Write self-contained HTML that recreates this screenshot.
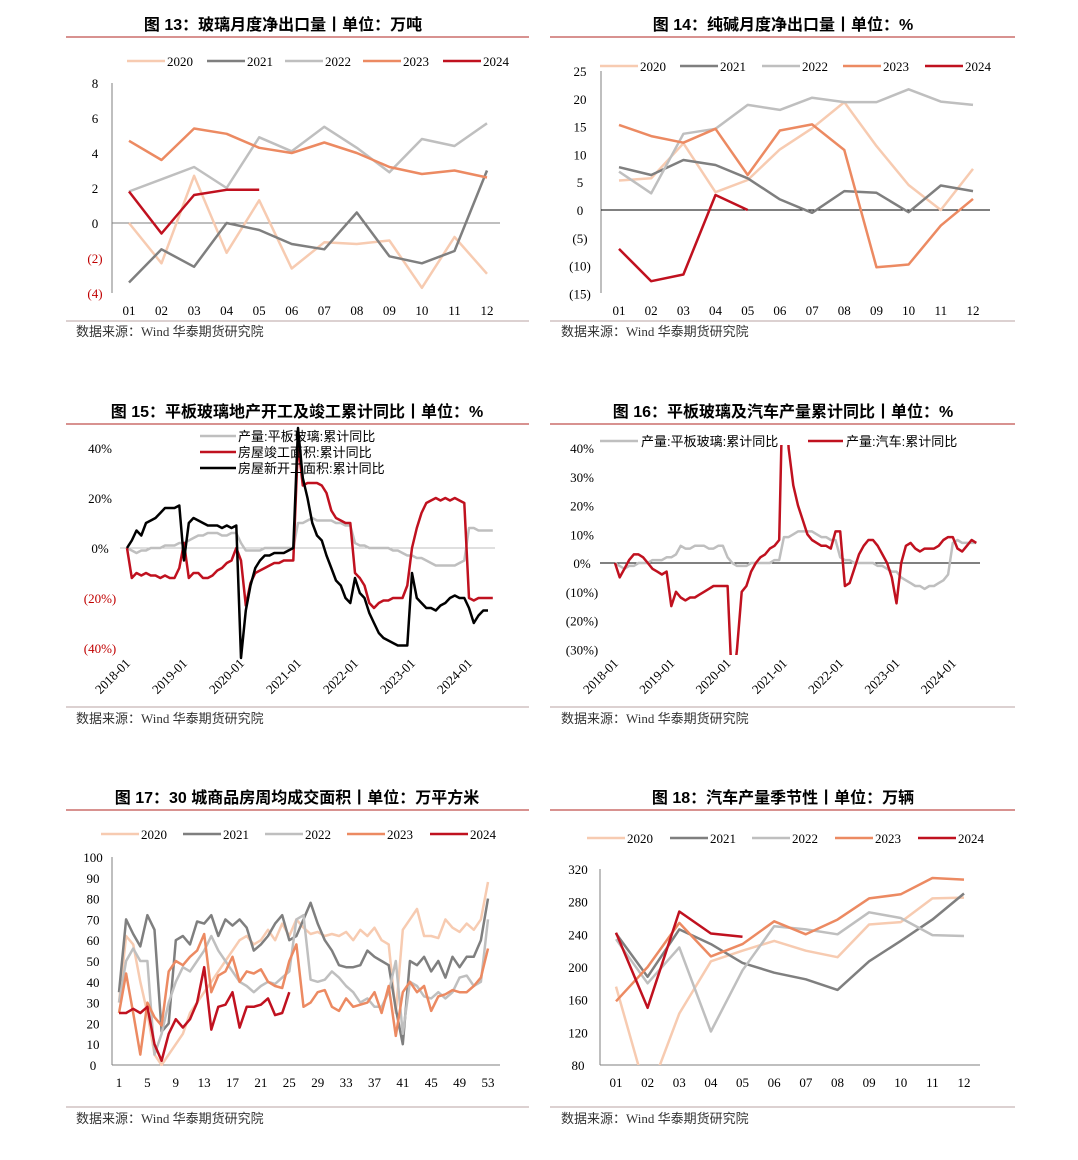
<!DOCTYPE html>
<html><head><meta charset="utf-8">
<style>
html,body{margin:0;padding:0;background:#fff;}
svg text{font-family:"Liberation Serif","Noto Serif CJK SC",serif;}
.t{font-family:"Liberation Sans","Noto Sans CJK SC",sans-serif;font-weight:bold;font-size:16px;fill:#000;}
.src{font-family:"Liberation Serif","Noto Sans CJK SC",serif;font-size:13px;fill:#333;}
</style></head><body>
<svg id="root" width="1078" height="1155" viewBox="0 0 1078 1155" xmlns="http://www.w3.org/2000/svg">
<text class="t" x="283" y="30" text-anchor="middle">图 13：玻璃月度净出口量丨单位：万吨</text>
<text class="t" x="783" y="30" text-anchor="middle">图 14：纯碱月度净出口量丨单位：%</text>
<text class="t" x="297" y="417" text-anchor="middle">图 15：平板玻璃地产开工及竣工累计同比丨单位：%</text>
<text class="t" x="783" y="417" text-anchor="middle">图 16：平板玻璃及汽车产量累计同比丨单位：%</text>
<text class="t" x="297" y="803" text-anchor="middle">图 17：30 城商品房周均成交面积丨单位：万平方米</text>
<text class="t" x="783" y="803" text-anchor="middle">图 18：汽车产量季节性丨单位：万辆</text>
<g stroke="#c0504d" stroke-width="1.2">
<line x1="66" y1="37" x2="529" y2="37"/><line x1="550" y1="37" x2="1015" y2="37"/>
<line x1="66" y1="424" x2="529" y2="424"/><line x1="550" y1="424" x2="1015" y2="424"/>
<line x1="66" y1="810" x2="529" y2="810"/><line x1="550" y1="810" x2="1015" y2="810"/>
</g>
<g stroke="#b9a3a3" stroke-width="1">
<line x1="66" y1="321" x2="529" y2="321"/><line x1="550" y1="321" x2="1015" y2="321"/>
<line x1="66" y1="707" x2="529" y2="707"/><line x1="550" y1="707" x2="1015" y2="707"/>
<line x1="66" y1="1107" x2="529" y2="1107"/><line x1="550" y1="1107" x2="1015" y2="1107"/>
</g>
<text class="src" x="76" y="336">数据来源：Wind 华泰期货研究院</text>
<text class="src" x="561" y="336">数据来源：Wind 华泰期货研究院</text>
<text class="src" x="76" y="723">数据来源：Wind 华泰期货研究院</text>
<text class="src" x="561" y="723">数据来源：Wind 华泰期货研究院</text>
<text class="src" x="76" y="1123">数据来源：Wind 华泰期货研究院</text>
<text class="src" x="561" y="1123">数据来源：Wind 华泰期货研究院</text>
</svg>
<script>
// ---- data ----
const MONTHS = ['01','02','03','04','05','06','07','08','09','10','11','12'];
const YEARS = ['2020','2021','2022','2023','2024'];
const C13_2020 = [0,-2.3,2.7,-1.7,1.3,-2.6,-1.1,-1.2,-1.0,-3.7,-0.8,-2.9];
const C13_2021 = [-3.4,-1.5,-2.5,0,-0.4,-1.2,-1.5,0.6,-1.9,-2.3,-1.6,3.0];
const C13_2022 = [1.8,2.5,3.2,2.0,4.9,4.1,5.5,4.3,2.9,4.8,4.4,5.7];
const C13_2023 = [4.7,3.6,5.4,5.1,4.3,4.0,4.6,4.0,3.2,2.8,3.0,2.6];
const C13_2024 = [1.8,-0.6,1.6,1.9,1.9];
const C13_TICKS = [8,6,4,2,0,-2,-4];

const C14_2020 = [5.3,5.7,12.0,3.2,5.4,10.9,14.7,19.4,11.5,4.5,0,7.4];
const C14_2021 = [7.7,6.3,9.0,8.1,5.7,1.9,-0.5,3.4,3.1,-0.4,4.4,3.4];
const C14_2022 = [6.9,3.0,13.7,14.6,18.9,18.0,20.2,19.4,19.4,21.7,19.5,18.9];
const C14_2023 = [15.3,13.3,12.1,14.6,6.3,14.3,15.4,10.8,-10.3,-9.8,-2.8,2.0];
const C14_2024 = [-7.0,-12.8,-11.6,2.7,0];
const C14_TICKS = [25,20,15,10,5,0,-5,-10,-15];

const DATE_LABELS = ['2018-01','2019-01','2020-01','2021-01','2022-01','2023-01','2024-01'];
const C15_GLASS = [0,-1,-2,-1,-1,0,0,0,1,1,1,2, 2,3,4,5,5,6,6,6,5,5,6,6, 2,-1,-1,-1,-1,0,0,0,0,0,0,0, 10,10,11,12,11,11,11,11,10,10,9,9, 2,1,1,0,0,0,0,0,-1,-1,-2,-3, -3,-4,-4,-5,-6,-7,-7,-7,-7,-7,-6,-5, 8,8,7,7,7,7];
const C15_COMPLETE = [0,-12,-10,-11,-10,-11,-11,-12,-11,-12,-12,-8, 2,-12,-10,-10,-12,-12,-11,-9,-8,-6,-5,0, -5,-23,-14,-10,-9,-8,-7,-6,-6,-5,-5,-5, 42,25,26,26,26,25,22,15,12,11,10,10, -10,-12,-15,-22,-24,-22,-21,-21,-20,-20,-20,-15, 0,8,14,18,19,20,19,20,19,20,19,18, -20,-21,-20,-20,-20,-20];
const C15_START = [0,3,7,5,10,11,12,14,16,16,16,17, -5,10,12,11,10,9,9,9,8,9,8,9, -44,-25,-15,-8,-5,-3,-3,-2,-2,-2,-1,0, 48,28,20,10,5,3,-3,-8,-13,-15,-20,-22, -12,-18,-20,-26,-30,-34,-36,-37,-38,-39,-39,-39, -10,-20,-22,-24,-24,-25,-23,-22,-20,-19,-20,-20, -24,-30,-27,-25,-25];
const C15_TICKS = [40,20,0,-20,-40];

const C16_GLASS = [0,-1,-2,-1,-1,0,0,0,1,1,1,2, 2,3,6,5,5,6,6,6,5,5,6,6, 2,0,-1,-1,-1,0,0,0,0,0,1,1, 9,9,10,11,11,11,11,10,9,9,8,8, 2,1,1,0,0,0,0,0,-1,-1,-2,-3, -3,-5,-6,-7,-8,-8,-9,-8,-8,-7,-6,-4, 7,8,7,7,7,7];
const C16_AUTO = [0,-5,-2,1,3,3,2,0,-2,-3,-4,-3, -15,-10,-12,-13,-12,-12,-11,-10,-9,-8,-8,-8, -8,-45,-30,-10,-8,-3,0,2,3,5,6,8, 80,40,27,20,15,10,8,7,6,6,5,11, 11,-8,-7,-2,3,6,8,8,6,3,0,-5, -14,0,6,7,5,4,5,5,5,6,8,9, 9,5,4,6,8,7];
const C16_TICKS = [40,30,20,10,0,-10,-20,-30];

const C17_2020 = [30,62,58,40,25,5,0,5,10,15,25,30,35,40,45,50,55,60,62,58,60,65,60,68,62,70,66,63,64,62,63,62,64,60,65,62,66,60,58,25,65,70,75,62,62,61,70,66,64,68,65,70,88];
const C17_2021 = [35,70,63,57,72,65,16,20,60,62,58,69,68,72,62,70,67,70,66,55,58,62,68,72,60,62,70,78,68,60,55,48,47,47,48,55,52,50,48,27,10,50,48,52,45,50,42,52,47,52,52,60,80];
const C17_2022 = [30,50,56,50,50,5,15,30,40,47,45,50,55,62,55,50,45,40,38,35,38,40,39,42,45,70,72,41,40,41,45,42,38,35,30,32,28,28,35,50,15,40,38,33,32,35,32,35,42,43,38,40,70];
const C17_2023 = [25,44,25,5,30,23,19,45,50,48,52,55,63,35,43,45,52,40,45,44,46,40,38,37,50,58,28,30,35,36,28,26,32,28,29,30,35,25,38,14,35,40,35,38,26,33,34,36,35,35,38,42,56];
const C17_2024 = [25,25,27,25,28,10,2,15,22,18,22,30,47,17,28,29,35,18,28,28,29,32,24,25,35];
const C17_TICKS = [100,90,80,70,60,50,40,30,20,10,0];
const C17_XLABELS = [1,5,9,13,17,21,25,29,33,37,41,45,49,53];

const C18_2020 = [176,40,143,207,220,232,220,212,252,255,284,285];
const C18_2021 = [241,188,246,228,205,193,185,172,207,232,258,290];
const C18_2022 = [234,180,224,121,196,250,246,240,267,260,239,238];
const C18_2023 = [158,200,254,213,228,256,240,258,284,289,309,307];
const C18_2024 = [242,150,268,241,237];
const C18_TICKS = [320,280,240,200,160,120,80];

// ---- drawing ----
const NS = 'http://www.w3.org/2000/svg';
const root = document.getElementById('root');
const YC = ['#f7cbb1','#7f7f7f','#bfbfbf','#ec8a62','#c0111f'];
function lin(d0,d1,r0,r1){return v=>r0+(v-d0)/(d1-d0)*(r1-r0);}
function mk(tag, attrs, name, parent){
  const el = document.createElementNS(NS, tag);
  for (const k in attrs) el.setAttribute(k, attrs[k]);
  
  
  (parent||root).appendChild(el);
  return el;
}
function txt(x,y,s,name,opt){
  const o = Object.assign({x:x,y:y,'font-size':13,fill:'#000','text-anchor':'middle'}, opt||{});
  const t = mk('text', o, name);
  t.textContent = s;
  return t;
}
let clipId = 0;
function series(vals, xs, ys, color, w, name, clip){
  const pts = vals.map((v,i)=>xs(i).toFixed(1)+','+ys(v).toFixed(1)).join(' ');
  mk('polyline',{points:pts,fill:'none',stroke:color,'stroke-width':w,'stroke-linejoin':'round','clip-path':'url(#'+clip+')'},name);
}
function clipRect(x,y,w,h){
  const id='clip'+(clipId++);
  const cp = mk('clipPath',{id:id},'clip-region');
  mk('rect',{x:x,y:y,width:w,height:h},'clip-rect',cp);
  return id;
}
function legendH(items, y, name){
  items.forEach(it=>{
    mk('line',{x1:it.x,y1:y,x2:it.x+38,y2:y,stroke:it.c,'stroke-width':2.5},name+'-swatch');
    txt(it.x+40,y+5,it.label,name+'-label',{'text-anchor':'start'});
  });
}
function fmt(v,suffix){ return v<0 ? '('+(-v)+suffix+')' : v+suffix; }

// Chart 13
(function(){
  const xs = lin(0,11,129,487), ys = lin(0,8,223,83);
  const clip = clipRect(112,70,400,235);
  mk('line',{x1:112,y1:83,x2:112,y2:293,stroke:'#7f7f7f'},'chart13-y-axis');
  mk('line',{x1:112,y1:ys(0),x2:500,y2:ys(0),stroke:'#7f7f7f'},'chart13-zero-line');
  C13_TICKS.forEach(v=>txt(95,ys(v)+5,fmt(v,''),'chart13-y-tick',{fill:v<0?'#c00000':'#000'}));
  MONTHS.forEach((m,i)=>txt(xs(i),315,m,'chart13-x-tick'));
  [C13_2020,C13_2021,C13_2022,C13_2023,C13_2024].forEach((d,k)=>series(d,xs,ys,YC[k],2.5,'chart13-line-'+YEARS[k],clip));
  legendH([{x:127,c:YC[0],label:'2020'},{x:207,c:YC[1],label:'2021'},{x:285,c:YC[2],label:'2022'},{x:363,c:YC[3],label:'2023'},{x:443,c:YC[4],label:'2024'}],61,'chart13-legend');
})();

// Chart 14
(function(){
  const xs = lin(0,11,619,973), ys = lin(0,25,210,71);
  const clip = clipRect(601,60,400,240);
  mk('line',{x1:601,y1:71,x2:601,y2:293,stroke:'#7f7f7f'},'chart14-y-axis');
  mk('line',{x1:601,y1:ys(0),x2:990,y2:ys(0),stroke:'#000'},'chart14-zero-line');
  C14_TICKS.forEach(v=>txt(580,ys(v)+5,fmt(v,''),'chart14-y-tick'));
  MONTHS.forEach((m,i)=>txt(xs(i),315,m,'chart14-x-tick'));
  [C14_2020,C14_2021,C14_2022,C14_2023,C14_2024].forEach((d,k)=>series(d,xs,ys,YC[k],2.5,'chart14-line-'+YEARS[k],clip));
  legendH([{x:600,c:YC[0],label:'2020'},{x:680,c:YC[1],label:'2021'},{x:762,c:YC[2],label:'2022'},{x:843,c:YC[3],label:'2023'},{x:925,c:YC[4],label:'2024'}],66,'chart14-legend');
})();

// Chart 15
(function(){
  const xs = m=>127+m*57/12, ys = lin(0,40,548,448);
  const clip = clipRect(120,420,380,240);
  mk('line',{x1:120,y1:ys(0),x2:495,y2:ys(0),stroke:'#bfbfbf'},'chart15-zero-line');
  C15_TICKS.forEach(v=>txt(100,ys(v)+5,fmt(v,'%'),'chart15-y-tick',{fill:v<0?'#c00000':'#000'}));
  DATE_LABELS.forEach((s,i)=>{
    const x = xs(i*12)+4;
    txt(x,664,s,'chart15-x-tick',{'text-anchor':'end',transform:'rotate(-45 '+x+' 664)'});
  });
  series(C15_GLASS,xs,ys,'#bfbfbf',2.5,'chart15-line-glass',clip);
  series(C15_COMPLETE,xs,ys,'#c0111f',2.5,'chart15-line-completion',clip);
  series(C15_START,xs,ys,'#000',2.5,'chart15-line-new-start',clip);
  const lg=[['#bfbfbf','产量:平板玻璃:累计同比'],['#c0111f','房屋竣工面积:累计同比'],['#000','房屋新开工面积:累计同比']];
  lg.forEach((it,i)=>{
    mk('line',{x1:200,y1:436+i*16,x2:236,y2:436+i*16,stroke:it[0],'stroke-width':2.5},'chart15-legend-swatch');
    txt(238,441+i*16,it[1],'chart15-legend-label',{'text-anchor':'start',style:'font-family:"Liberation Sans","Noto Sans CJK SC",sans-serif'});
  });
})();

// Chart 16
(function(){
  const xs = m=>615+m*56.3/12, ys = lin(0,40,563,448);
  const clip = clipRect(600,445,390,210);
  mk('line',{x1:600,y1:ys(0),x2:980,y2:ys(0),stroke:'#000'},'chart16-zero-line');
  C16_TICKS.forEach(v=>txt(582,ys(v)+5,fmt(v,'%'),'chart16-y-tick'));
  DATE_LABELS.forEach((s,i)=>{
    const x = xs(i*12)+4;
    txt(x,664,s,'chart16-x-tick',{'text-anchor':'end',transform:'rotate(-45 '+x+' 664)'});
  });
  series(C16_GLASS,xs,ys,'#bfbfbf',2.5,'chart16-line-glass',clip);
  series(C16_AUTO,xs,ys,'#c0111f',2.5,'chart16-line-auto',clip);
  mk('line',{x1:600,y1:441,x2:638,y2:441,stroke:'#bfbfbf','stroke-width':2.5},'chart16-legend-swatch');
  txt(641,446,'产量:平板玻璃:累计同比','chart16-legend-label',{'text-anchor':'start',style:'font-family:"Liberation Sans","Noto Sans CJK SC",sans-serif'});
  mk('line',{x1:808,y1:441,x2:843,y2:441,stroke:'#c0111f','stroke-width':2.5},'chart16-legend-swatch');
  txt(846,446,'产量:汽车:累计同比','chart16-legend-label',{'text-anchor':'start',style:'font-family:"Liberation Sans","Noto Sans CJK SC",sans-serif'});
})();

// Chart 17
(function(){
  const xs = lin(0,52,119,488), ys = lin(0,100,1065,857);
  const clip = clipRect(112,850,390,216);
  mk('line',{x1:112,y1:857,x2:112,y2:1065,stroke:'#7f7f7f'},'chart17-y-axis');
  mk('line',{x1:112,y1:1065,x2:500,y2:1065,stroke:'#7f7f7f'},'chart17-x-axis');
  C17_TICKS.forEach(v=>txt(93,ys(v)+5,String(v),'chart17-y-tick'));
  C17_XLABELS.forEach(w=>txt(xs(w-1),1087,String(w),'chart17-x-tick'));
  [C17_2020,C17_2021,C17_2022,C17_2023,C17_2024].forEach((d,k)=>series(d,xs,ys,YC[k],2.5,'chart17-line-'+YEARS[k],clip));
  legendH([{x:101,c:YC[0],label:'2020'},{x:183,c:YC[1],label:'2021'},{x:265,c:YC[2],label:'2022'},{x:347,c:YC[3],label:'2023'},{x:430,c:YC[4],label:'2024'}],834,'chart17-legend');
})();

// Chart 18
(function(){
  const xs = lin(0,11,616,964), ys = lin(80,320,1065,869);
  const clip = clipRect(600,860,390,205);
  mk('line',{x1:600,y1:869,x2:600,y2:1065,stroke:'#7f7f7f'},'chart18-y-axis');
  mk('line',{x1:600,y1:1065,x2:980,y2:1065,stroke:'#7f7f7f'},'chart18-x-axis');
  C18_TICKS.forEach(v=>txt(578,ys(v)+5,String(v),'chart18-y-tick'));
  MONTHS.forEach((m,i)=>txt(xs(i),1087,m,'chart18-x-tick'));
  [C18_2020,C18_2021,C18_2022,C18_2023,C18_2024].forEach((d,k)=>series(d,xs,ys,YC[k],2.5,'chart18-line-'+YEARS[k],clip));
  legendH([{x:587,c:YC[0],label:'2020'},{x:670,c:YC[1],label:'2021'},{x:752,c:YC[2],label:'2022'},{x:835,c:YC[3],label:'2023'},{x:918,c:YC[4],label:'2024'}],838,'chart18-legend');
})();
</script>
</body></html>
